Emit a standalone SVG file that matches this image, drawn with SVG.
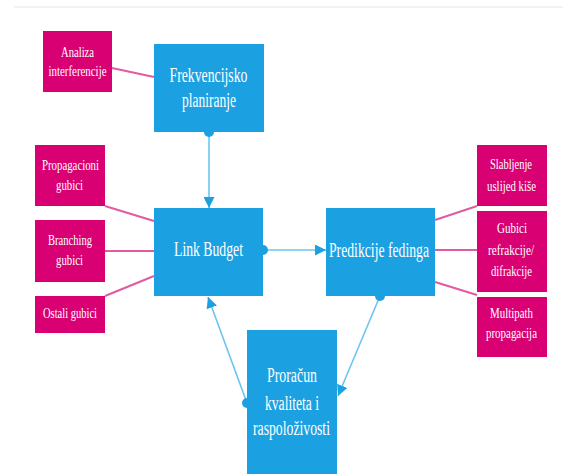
<svg xmlns="http://www.w3.org/2000/svg" width="563" height="474" viewBox="0 0 563 474">
<defs>
<marker id="arr" markerUnits="userSpaceOnUse" markerWidth="11" markerHeight="11" refX="10" refY="5" orient="auto" viewBox="0 0 10 10">
<path d="M0,0 L10,5 L0,10 z" fill="#1ba1e2"/>
</marker>
<marker id="dot" markerUnits="userSpaceOnUse" markerWidth="12" markerHeight="12" refX="6" refY="6" viewBox="0 0 12 12">
<circle cx="6" cy="6" r="5" fill="#1ba1e2"/>
</marker>
<style>
.b{fill:#1ba1e2}
.p{fill:#d80073}
.tb{fill:#ffffff;font-family:"Liberation Serif",serif;font-size:20px;text-anchor:middle}
.tp{fill:#ffffff;font-family:"Liberation Serif",serif;font-size:15px;text-anchor:middle}
.lb{stroke:#6cc5ef;stroke-width:1.6;fill:none}
.lp{stroke:#e25a9f;stroke-width:2;fill:none}
</style>
</defs>
<rect width="563" height="474" fill="#ffffff"/>
<line x1="14" y1="7" x2="563" y2="7" stroke="#f2f2f2" stroke-width="2"/>
<g id="connectors">
<line class="lp" x1="112" y1="68" x2="154" y2="77"/>
<line class="lp" x1="105" y1="206" x2="154" y2="221"/>
<line class="lp" x1="105" y1="251" x2="154" y2="251"/>
<line class="lp" x1="105" y1="296" x2="154" y2="276"/>
<line class="lp" x1="435" y1="220" x2="477" y2="206"/>
<line class="lp" x1="435" y1="250" x2="477" y2="250"/>
<line class="lp" x1="435" y1="282" x2="477" y2="295"/>
<line class="lb" x1="209" y1="132" x2="209" y2="208" marker-start="url(#dot)" marker-end="url(#arr)"/>
<line class="lb" x1="263" y1="250" x2="326" y2="250" marker-start="url(#dot)" marker-end="url(#arr)"/>
<line class="lb" x1="247" y1="403" x2="208" y2="297" marker-start="url(#dot)" marker-end="url(#arr)"/>
<line class="lb" x1="380" y1="296" x2="338" y2="396" marker-start="url(#dot)" marker-end="url(#arr)"/>
</g>
<g id="analiza">
<rect class="p" x="43" y="31" width="69" height="61"/>
<text class="tp" x="77.5" y="57" textLength="33" lengthAdjust="spacingAndGlyphs">Analiza</text>
<text class="tp" x="77.5" y="76" textLength="58" lengthAdjust="spacingAndGlyphs">interferencije</text>
</g>
<g id="frekvencijsko">
<rect class="b" x="154" y="44" width="110" height="88"/>
<text class="tb" x="208.5" y="82" textLength="78" lengthAdjust="spacingAndGlyphs">Frekvencijsko</text>
<text class="tb" x="209" y="107" textLength="54" lengthAdjust="spacingAndGlyphs">planiranje</text>
</g>
<g id="propagacioni">
<rect class="p" x="35" y="145" width="70" height="61"/>
<text class="tp" x="70.5" y="170" textLength="57" lengthAdjust="spacingAndGlyphs">Propagacioni</text>
<text class="tp" x="69.5" y="190" textLength="27" lengthAdjust="spacingAndGlyphs">gubici</text>
</g>
<g id="branching">
<rect class="p" x="35" y="220" width="70" height="62"/>
<text class="tp" x="70" y="245" textLength="44" lengthAdjust="spacingAndGlyphs">Branching</text>
<text class="tp" x="69.5" y="265" textLength="27" lengthAdjust="spacingAndGlyphs">gubici</text>
</g>
<g id="ostali">
<rect class="p" x="35" y="296" width="70" height="37"/>
<text class="tp" x="70" y="318" textLength="54" lengthAdjust="spacingAndGlyphs">Ostali gubici</text>
</g>
<g id="linkbudget">
<rect class="b" x="154" y="208" width="109" height="88"/>
<text class="tb" x="208.5" y="256" textLength="69" lengthAdjust="spacingAndGlyphs">Link Budget</text>
</g>
<g id="predikcije">
<rect class="b" x="326" y="208" width="109" height="88"/>
<text class="tb" x="379" y="257" textLength="100" lengthAdjust="spacingAndGlyphs">Predikcije fedinga</text>
</g>
<g id="slabljenje">
<rect class="p" x="477" y="145" width="70" height="61"/>
<text class="tp" x="511" y="169" textLength="42" lengthAdjust="spacingAndGlyphs">Slabljenje</text>
<text class="tp" x="511.5" y="191" textLength="49" lengthAdjust="spacingAndGlyphs">uslijed kiše</text>
</g>
<g id="gubici">
<rect class="p" x="477" y="211" width="70" height="81"/>
<text class="tp" x="512" y="233" textLength="30" lengthAdjust="spacingAndGlyphs">Gubici</text>
<text class="tp" x="511" y="255" textLength="46" lengthAdjust="spacingAndGlyphs">refrakcije/</text>
<text class="tp" x="511.5" y="276" textLength="41" lengthAdjust="spacingAndGlyphs">difrakcije</text>
</g>
<g id="multipath">
<rect class="p" x="477" y="297" width="70" height="60"/>
<text class="tp" x="511.5" y="318" textLength="43" lengthAdjust="spacingAndGlyphs">Multipath</text>
<text class="tp" x="511.5" y="338" textLength="51" lengthAdjust="spacingAndGlyphs">propagacija</text>
</g>
<g id="proracun">
<rect class="b" x="247" y="330" width="90" height="150"/>
<text class="tb" x="292" y="382" textLength="50" lengthAdjust="spacingAndGlyphs">Proračun</text>
<text class="tb" x="292" y="410" textLength="54" lengthAdjust="spacingAndGlyphs">kvaliteta i</text>
<text class="tb" x="291.5" y="435" textLength="77" lengthAdjust="spacingAndGlyphs">raspoloživosti</text>
</g>
</svg>
